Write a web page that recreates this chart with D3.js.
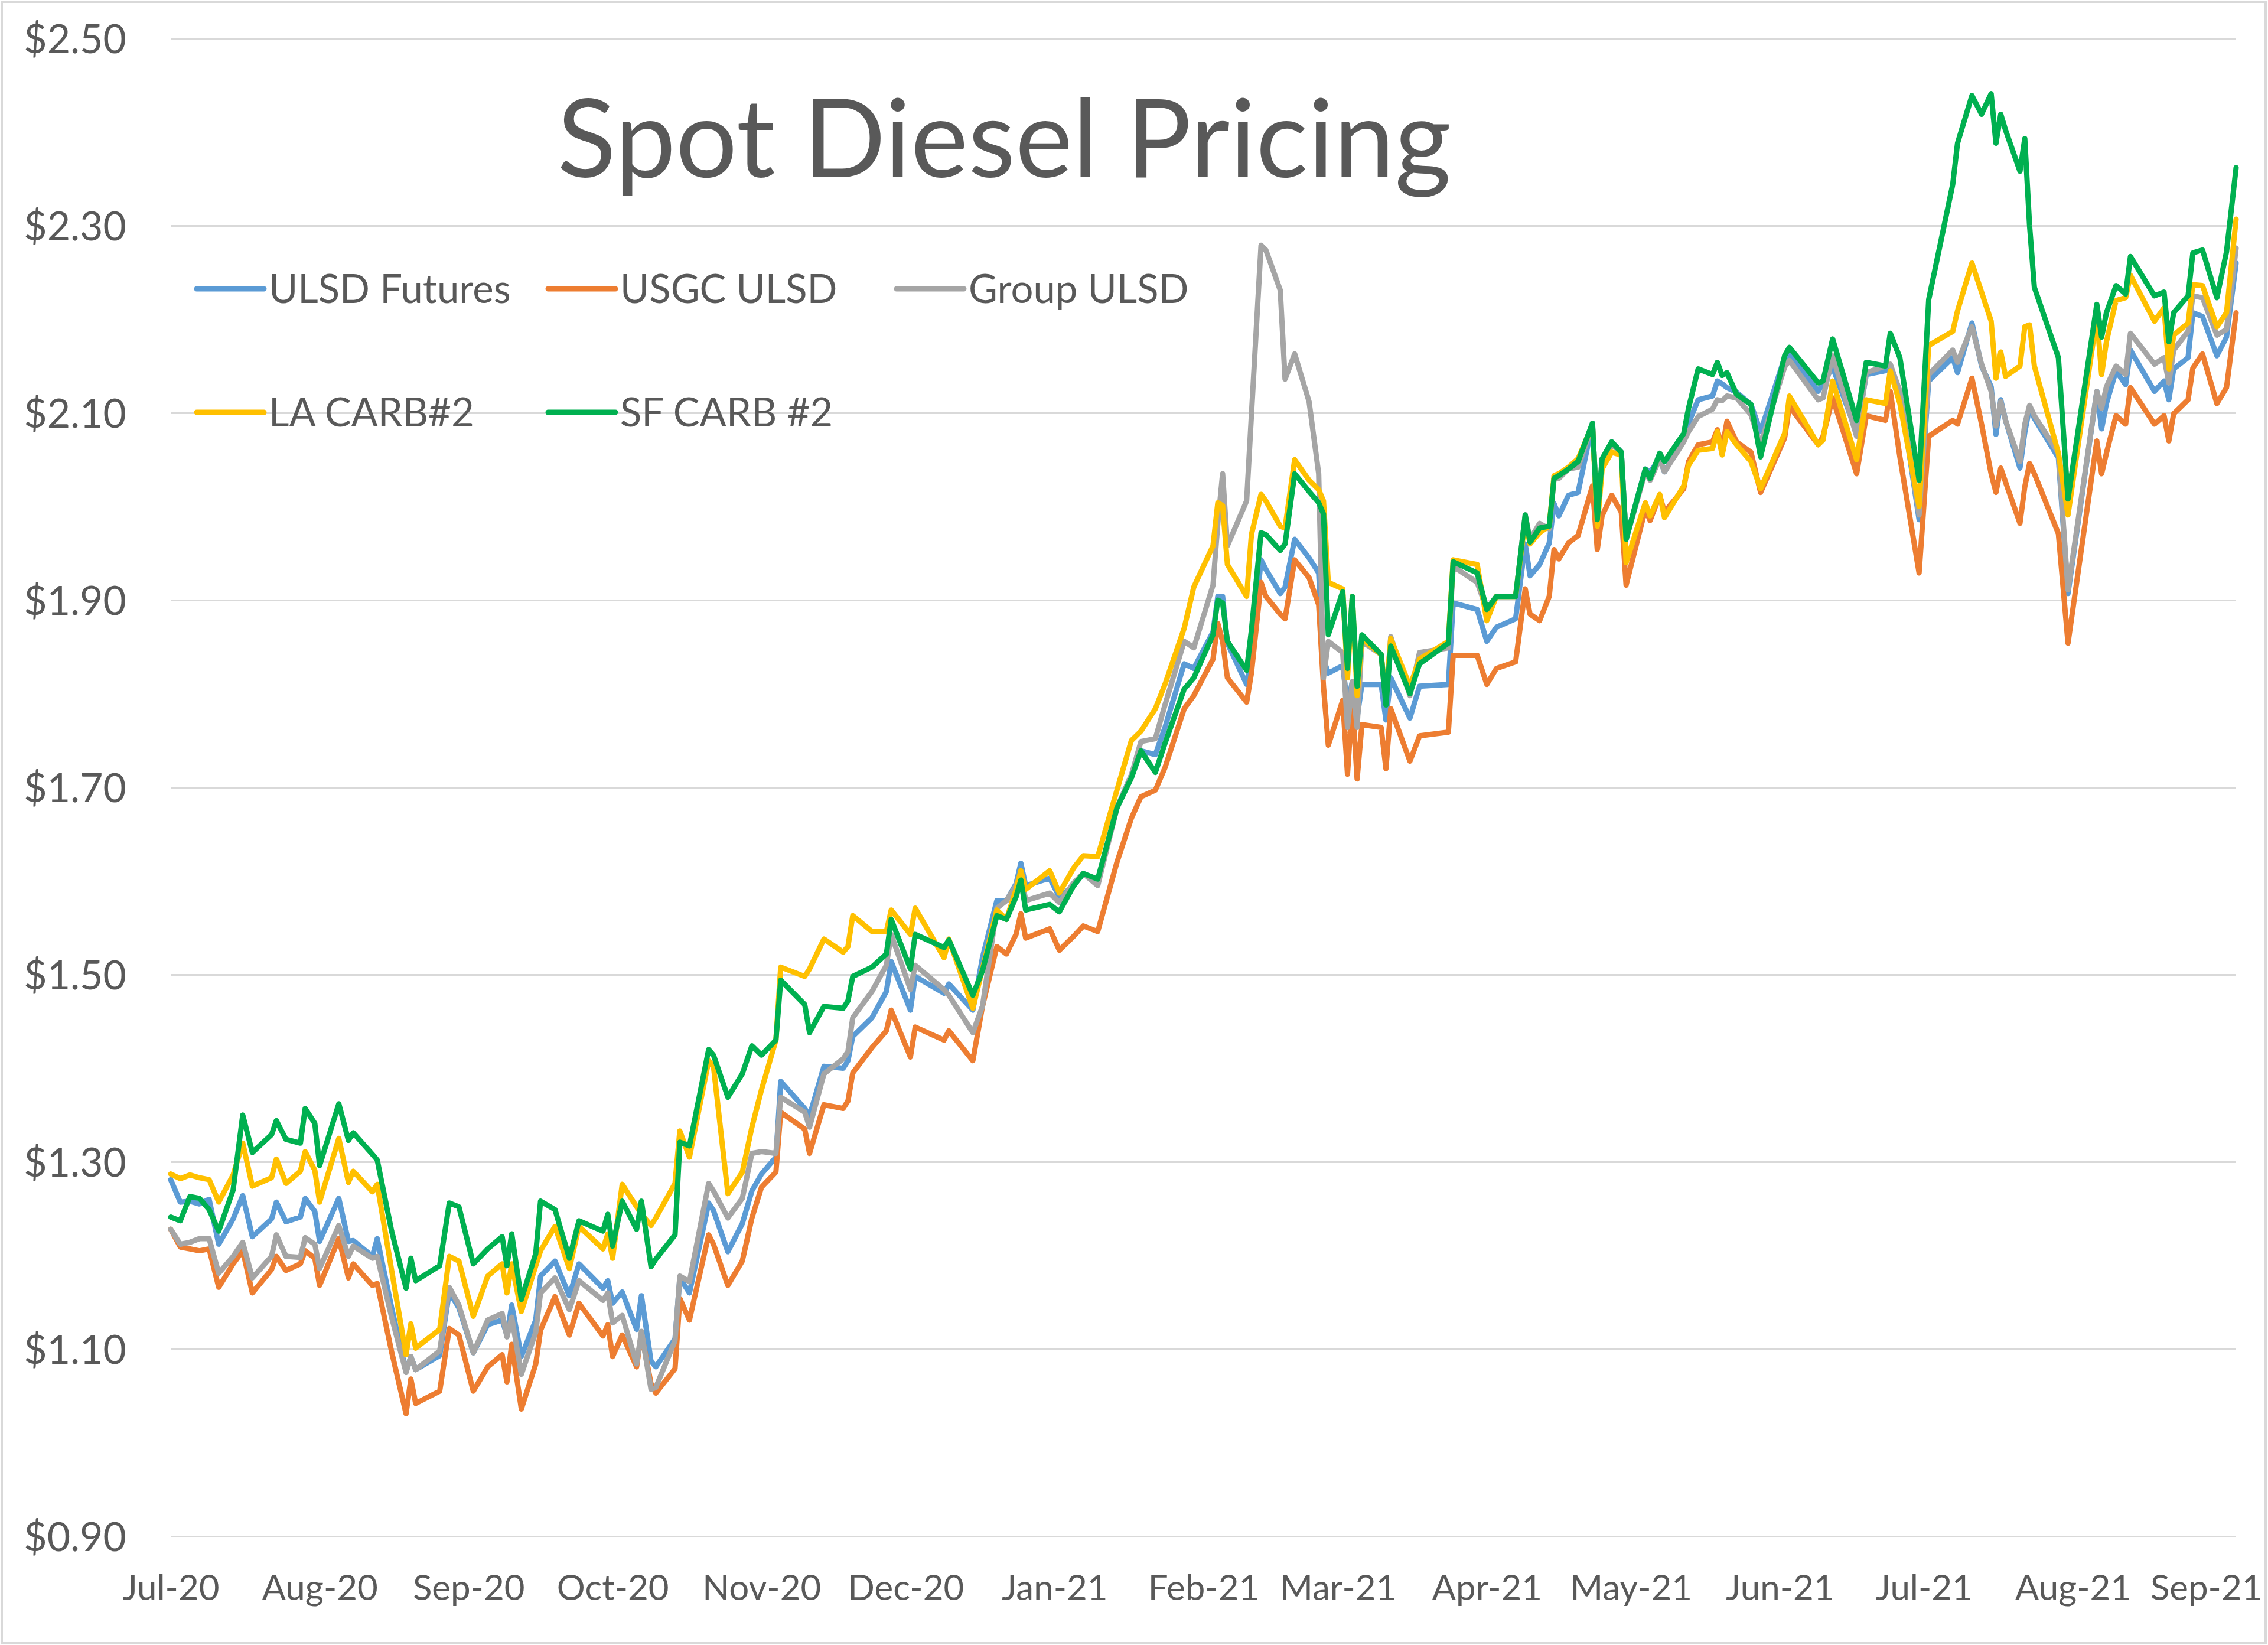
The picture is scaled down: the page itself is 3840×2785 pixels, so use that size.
<!DOCTYPE html>
<html><head><meta charset="utf-8">
<script src="https://cdn.jsdelivr.net/npm/d3@7"></script>
<style>
html,body{margin:0;padding:0;background:#fff;}
svg{display:block;}
text{font-family:Lato,"Open Sans",sans-serif;}
</style>
</head><body>
<svg id="chart" width="3840" height="2785"></svg>
<script>
// ---------------- DATA ----------------
const title = "Spot Diesel Pricing";
const seriesNames = ["ULSD Futures", "USGC ULSD", "Group ULSD", "LA CARB#2", "SF CARB #2"];
const seriesColors = ["#5B9BD5", "#ED7D31", "#A5A5A5", "#FFC000", "#00B050"];
const yTickValues = [0.90, 1.10, 1.30, 1.50, 1.70, 1.90, 2.10, 2.30, 2.50];
const xTickMonths = ["2020-07-01","2020-08-01","2020-09-01","2020-10-01","2020-11-01","2020-12-01",
  "2021-01-01","2021-02-01","2021-03-01","2021-04-01","2021-05-01","2021-06-01","2021-07-01","2021-08-01","2021-09-01"];

const dates = [
  "2020-07-01","2020-07-03","2020-07-05","2020-07-07","2020-07-09","2020-07-11","2020-07-14","2020-07-16","2020-07-18","2020-07-22","2020-07-23","2020-07-25","2020-07-28","2020-07-29","2020-07-31","2020-08-01","2020-08-05","2020-08-07","2020-08-08","2020-08-12","2020-08-13","2020-08-16","2020-08-19","2020-08-20","2020-08-21","2020-08-26","2020-08-28","2020-08-30","2020-09-02","2020-09-05","2020-09-08","2020-09-09","2020-09-10","2020-09-12","2020-09-15","2020-09-16","2020-09-19","2020-09-22","2020-09-24","2020-09-29","2020-09-30","2020-10-01","2020-10-03","2020-10-06",
  "2020-10-07","2020-10-09","2020-10-10","2020-10-14","2020-10-15","2020-10-17","2020-10-21","2020-10-22","2020-10-25","2020-10-28","2020-10-30","2020-11-01","2020-11-04","2020-11-05","2020-11-10","2020-11-11","2020-11-14","2020-11-18","2020-11-19","2020-11-20","2020-11-24","2020-11-27","2020-11-28","2020-12-02","2020-12-03","2020-12-09","2020-12-10","2020-12-15","2020-12-17","2020-12-20","2020-12-22","2020-12-24","2020-12-25","2020-12-26","2020-12-31","2021-01-02",
  "2021-01-05","2021-01-07","2021-01-10","2021-01-14","2021-01-17","2021-01-19",
  "2021-01-22","2021-01-24","2021-01-28","2021-01-30","2021-02-03","2021-02-04","2021-02-05","2021-02-06","2021-02-10","2021-02-11","2021-02-13","2021-02-14","2021-02-17","2021-02-18","2021-02-20","2021-02-23","2021-02-25","2021-02-26","2021-02-27","2021-03-02","2021-03-03","2021-03-04","2021-03-05","2021-03-06","2021-03-10","2021-03-11","2021-03-12","2021-03-16","2021-03-18","2021-03-24","2021-03-25","2021-03-30","2021-04-01","2021-04-03","2021-04-07","2021-04-09","2021-04-10","2021-04-12",
  "2021-04-14","2021-04-15","2021-04-16","2021-04-18","2021-04-20","2021-04-23","2021-04-24","2021-04-25","2021-04-27","2021-04-29","2021-04-30","2021-05-04","2021-05-05","2021-05-07","2021-05-08","2021-05-12","2021-05-13","2021-05-15","2021-05-18","2021-05-19","2021-05-20","2021-05-21","2021-05-23","2021-05-26","2021-05-28","2021-06-02","2021-06-03","2021-06-09","2021-06-10","2021-06-12",
  "2021-06-17","2021-06-19","2021-06-23","2021-06-24","2021-06-26","2021-06-30","2021-07-02","2021-07-07","2021-07-08","2021-07-11","2021-07-13","2021-07-15","2021-07-16","2021-07-17","2021-07-18","2021-07-21","2021-07-22","2021-07-23","2021-07-24","2021-07-29","2021-07-31","2021-08-06","2021-08-07","2021-08-08","2021-08-10","2021-08-12","2021-08-13","2021-08-18","2021-08-20","2021-08-21","2021-08-22","2021-08-25","2021-08-26","2021-08-28","2021-08-31","2021-09-02","2021-09-04"
];

const ulsdFutures = [
  1.281,1.257,1.258,1.255,1.260,1.212,1.239,1.264,1.220,1.239,1.257,1.236,1.241,1.261,1.247,1.215,1.261,1.215,1.216,1.199,1.218,1.144,1.076,1.092,1.078,1.093,1.161,1.144,1.096,1.126,1.131,1.115,1.147,1.092,1.131,1.178,1.194,1.157,1.191,1.165,1.173,1.149,1.161,1.121,
  1.157,1.087,1.081,1.111,1.176,1.160,1.256,1.248,1.204,1.234,1.269,1.287,1.305,1.386,1.357,1.349,1.402,1.400,1.408,1.434,1.454,1.482,1.514,1.462,1.498,1.480,1.490,1.462,1.518,1.579,1.579,1.597,1.619,1.595,1.603,1.583,
  1.595,1.608,1.600,1.678,1.713,1.739,
  1.735,1.764,1.832,1.827,1.866,1.904,1.904,1.854,1.810,1.837,1.943,1.933,1.907,1.914,1.965,1.945,1.929,1.837,1.822,1.830,1.788,1.813,1.774,1.810,1.810,1.772,1.817,1.774,1.808,1.810,1.897,1.890,1.856,1.871,1.880,1.960,1.926,1.938,
  1.961,2.003,1.990,2.012,2.015,2.089,1.986,2.044,2.069,2.058,1.965,2.040,2.037,2.051,2.037,2.073,2.089,2.114,2.118,2.134,2.131,2.127,2.122,2.109,2.080,2.159,2.163,2.123,2.131,2.149,
  2.079,2.141,2.145,2.150,2.123,1.986,2.134,2.159,2.143,2.196,2.150,2.128,2.077,2.114,2.092,2.041,2.079,2.106,2.094,2.052,1.907,2.123,2.083,2.110,2.145,2.130,2.167,2.123,2.134,2.114,2.147,2.159,2.207,2.203,2.161,2.181,2.260
];

const usgcUlsd = [
  1.228,1.209,1.207,1.205,1.207,1.166,1.191,1.205,1.160,1.185,1.199,1.184,1.191,1.205,1.197,1.168,1.218,1.176,1.191,1.168,1.170,1.097,1.031,1.068,1.042,1.055,1.122,1.115,1.055,1.081,1.094,1.065,1.105,1.036,1.084,1.120,1.156,1.115,1.149,1.114,1.126,1.092,1.115,1.081,
  1.117,1.063,1.053,1.079,1.154,1.131,1.222,1.212,1.168,1.194,1.240,1.273,1.289,1.353,1.335,1.309,1.361,1.357,1.365,1.395,1.422,1.440,1.462,1.412,1.444,1.430,1.440,1.408,1.466,1.530,1.522,1.543,1.565,1.539,1.549,1.526,
  1.541,1.552,1.546,1.620,1.667,1.690,
  1.697,1.721,1.784,1.798,1.837,1.875,1.856,1.817,1.791,1.822,1.919,1.904,1.885,1.880,1.943,1.924,1.895,1.808,1.745,1.793,1.714,1.793,1.709,1.767,1.764,1.720,1.784,1.728,1.755,1.759,1.841,1.841,1.810,1.827,1.834,1.912,1.885,1.878,
  1.904,1.954,1.944,1.961,1.969,2.022,1.954,1.990,2.012,1.994,1.916,1.997,1.985,2.012,1.994,2.019,2.048,2.066,2.069,2.082,2.062,2.091,2.069,2.058,2.015,2.073,2.107,2.066,2.075,2.116,
  2.035,2.097,2.092,2.123,2.053,1.929,2.075,2.092,2.088,2.137,2.088,2.035,2.015,2.041,2.026,1.982,2.021,2.046,2.035,1.971,1.854,2.070,2.035,2.057,2.097,2.088,2.127,2.088,2.097,2.070,2.099,2.114,2.148,2.163,2.110,2.127,2.207
];

const groupUlsd = [
  1.228,1.212,1.214,1.218,1.218,1.181,1.199,1.214,1.176,1.199,1.222,1.199,1.198,1.219,1.212,1.186,1.232,1.199,1.210,1.197,1.199,1.134,1.075,1.092,1.078,1.098,1.166,1.147,1.096,1.131,1.138,1.113,1.134,1.073,1.118,1.160,1.176,1.142,1.173,1.152,1.160,1.128,1.136,1.084,
  1.119,1.057,1.059,1.109,1.178,1.172,1.277,1.269,1.240,1.261,1.309,1.311,1.309,1.369,1.353,1.337,1.394,1.410,1.418,1.454,1.482,1.510,1.543,1.484,1.510,1.484,1.478,1.438,1.466,1.571,1.579,1.595,1.609,1.579,1.587,1.577,
  1.598,1.608,1.595,1.678,1.713,1.749,
  1.752,1.788,1.856,1.849,1.916,1.982,2.035,1.958,2.006,2.098,2.279,2.274,2.231,2.136,2.163,2.112,2.035,1.817,1.856,1.844,1.764,1.813,1.764,1.856,1.842,1.788,1.861,1.798,1.844,1.849,1.936,1.919,1.890,1.904,1.904,1.991,1.965,1.982,
  1.976,2.030,2.030,2.040,2.042,2.087,1.986,2.048,2.066,2.058,1.965,2.037,2.028,2.051,2.037,2.069,2.080,2.096,2.104,2.114,2.113,2.118,2.116,2.098,2.066,2.149,2.156,2.114,2.116,2.161,
  2.075,2.143,2.150,2.152,2.123,1.991,2.141,2.167,2.154,2.192,2.152,2.123,2.086,2.112,2.092,2.048,2.088,2.108,2.097,2.057,1.911,2.123,2.105,2.128,2.150,2.141,2.185,2.152,2.159,2.132,2.167,2.187,2.225,2.223,2.183,2.189,2.276
];

const laCarb2 = [
  1.287,1.282,1.286,1.283,1.281,1.257,1.286,1.320,1.274,1.283,1.303,1.277,1.290,1.311,1.291,1.257,1.325,1.278,1.290,1.268,1.276,1.184,1.094,1.127,1.101,1.121,1.199,1.194,1.135,1.178,1.191,1.160,1.191,1.140,1.189,1.205,1.231,1.186,1.231,1.207,1.223,1.197,1.276,1.252,
  1.244,1.232,1.240,1.277,1.333,1.305,1.408,1.402,1.266,1.289,1.337,1.377,1.430,1.508,1.498,1.506,1.538,1.524,1.530,1.563,1.546,1.546,1.569,1.543,1.571,1.518,1.538,1.464,1.506,1.569,1.559,1.591,1.611,1.591,1.611,1.587,
  1.614,1.627,1.626,1.697,1.750,1.760,
  1.784,1.810,1.870,1.914,1.958,2.004,2.001,1.938,1.904,1.970,2.013,2.006,1.979,1.977,2.050,2.028,2.018,2.006,1.919,1.912,1.817,1.904,1.798,1.859,1.842,1.796,1.859,1.808,1.837,1.856,1.943,1.938,1.878,1.904,1.904,1.986,1.960,1.972,
  1.979,2.033,2.035,2.042,2.051,2.087,1.979,2.040,2.058,2.055,1.940,2.004,1.990,2.013,1.988,2.022,2.044,2.060,2.062,2.080,2.055,2.080,2.066,2.048,2.019,2.078,2.118,2.066,2.071,2.134,
  2.050,2.114,2.110,2.145,2.110,2.000,2.172,2.187,2.209,2.260,2.229,2.198,2.137,2.165,2.139,2.150,2.192,2.194,2.150,2.057,1.991,2.203,2.141,2.176,2.220,2.223,2.247,2.198,2.212,2.147,2.183,2.196,2.237,2.236,2.192,2.207,2.307
];

const sfCarb2 = [
  1.241,1.237,1.263,1.261,1.249,1.226,1.270,1.350,1.310,1.329,1.344,1.324,1.320,1.357,1.341,1.296,1.362,1.323,1.331,1.308,1.302,1.226,1.165,1.197,1.173,1.189,1.256,1.252,1.191,1.207,1.220,1.189,1.223,1.153,1.202,1.258,1.249,1.197,1.237,1.226,1.244,1.210,1.258,1.228,
  1.258,1.188,1.196,1.222,1.321,1.317,1.420,1.414,1.369,1.394,1.424,1.414,1.430,1.494,1.468,1.438,1.466,1.464,1.472,1.498,1.508,1.522,1.559,1.506,1.543,1.529,1.537,1.478,1.504,1.563,1.559,1.583,1.601,1.569,1.575,1.567,
  1.595,1.608,1.602,1.678,1.710,1.739,
  1.716,1.747,1.805,1.817,1.863,1.900,1.897,1.856,1.825,1.868,1.972,1.970,1.953,1.960,2.035,2.016,2.004,1.992,1.863,1.909,1.827,1.904,1.808,1.863,1.842,1.788,1.851,1.800,1.832,1.854,1.941,1.929,1.890,1.904,1.904,1.991,1.962,1.977,
  1.979,2.030,2.033,2.040,2.048,2.089,1.986,2.051,2.069,2.058,1.965,2.040,2.030,2.057,2.048,2.078,2.105,2.147,2.141,2.154,2.140,2.143,2.120,2.109,2.053,2.161,2.170,2.132,2.134,2.179,
  2.092,2.154,2.150,2.185,2.159,2.028,2.221,2.344,2.388,2.439,2.419,2.441,2.388,2.419,2.402,2.358,2.393,2.300,2.234,2.159,2.008,2.216,2.181,2.207,2.236,2.227,2.267,2.225,2.229,2.176,2.207,2.225,2.271,2.274,2.223,2.272,2.362
];

const seriesValues = [ulsdFutures, usgcUlsd, groupUlsd, laCarb2, sfCarb2];

// ---------------- CHART ----------------
const W = 3840, H = 2785;
const parse = d3.timeParse("%Y-%m-%d");
const plot = {left: 289, right: 3786, top: 65, bottom: 2601};
const textColor = "#595959";
const gridColor = "#D9D9D9";
const fontStack = "Lato, 'Open Sans', sans-serif";
const chartRightEdge = 3830;

const svg = d3.select("#chart").attr("viewBox", `0 0 ${W} ${H}`);

svg.append("rect").attr("x", 3).attr("y", 3).attr("width", W - 7).attr("height", H - 6)
  .attr("fill", "#fff").attr("stroke", gridColor).attr("stroke-width", 4);

const x = d3.scaleTime()
  .domain([parse(dates[0]), parse(dates[dates.length - 1])])
  .range([plot.left, plot.right]);
const y = d3.scaleLinear().domain([0.9, 2.5]).range([plot.bottom, plot.top]);

// Y axis with gridlines
const yAxis = d3.axisLeft(y)
  .tickValues(yTickValues)
  .tickFormat(d3.format("$.2f"))
  .tickSize(-(plot.right - plot.left))
  .tickPadding(75);
const yg = svg.append("g").attr("transform", `translate(${plot.left},0)`).call(yAxis);
yg.select(".domain").remove();
yg.selectAll(".tick line").attr("stroke", gridColor).attr("stroke-width", 3);
yg.selectAll(".tick text").attr("fill", textColor).attr("font-size", 68)
  .attr("font-family", fontStack).attr("dy", "0.36em");

// X axis
const xAxis = d3.axisBottom(x)
  .tickValues(xTickMonths.map(parse))
  .tickFormat(d3.timeFormat("%b-%y"))
  .tickSize(0)
  .tickPadding(65);
const xg = svg.append("g").attr("transform", `translate(0,${plot.bottom})`).call(xAxis);
xg.select(".domain").remove();
xg.selectAll(".tick text").attr("fill", textColor).attr("font-size", 60)
  .attr("font-family", fontStack);
// keep the last month label inside the chart frame
xg.selectAll(".tick").each(function(d) {
  const t = d3.select(this).select("text");
  const w = t.node().getComputedTextLength();
  const cx = x(d);
  if (cx + w / 2 > chartRightEdge) t.attr("dx", chartRightEdge - (cx + w / 2));
});

// Lines
const line = d3.line().x(d => x(d.date)).y(d => y(d.value));
const seriesData = seriesNames.map((name, i) => ({
  name, color: seriesColors[i],
  points: dates.map((ds, j) => ({date: parse(ds), value: seriesValues[i][j]}))
    .filter(p => p.value != null && !isNaN(p.value))
}));
svg.append("g").selectAll("path").data(seriesData).join("path")
  .attr("d", d => line(d.points))
  .attr("fill", "none")
  .attr("stroke", d => d.color)
  .attr("stroke-width", 9)
  .attr("stroke-linejoin", "round")
  .attr("stroke-linecap", "round");

// Title
svg.append("text").attr("x", 1700).attr("y", 300).attr("text-anchor", "middle")
  .attr("font-size", 184).attr("fill", textColor).text(title);

// Legend (two rows)
const legendRows = [489, 698];
const legendCols = [333, 928, 1518];
const legendPos = [[0, 0], [0, 1], [0, 2], [1, 0], [1, 1]];
const lg = svg.append("g");
seriesData.forEach((s, i) => {
  const [r, c] = legendPos[i];
  const ly = legendRows[r], lx = legendCols[c];
  lg.append("line").attr("x1", lx).attr("x2", lx + 114).attr("y1", ly).attr("y2", ly)
    .attr("stroke", s.color).attr("stroke-width", 9).attr("stroke-linecap", "round");
  lg.append("text").attr("x", lx + 122).attr("y", ly + 24)
    .attr("font-size", 67).attr("fill", textColor).text(s.name);
});
</script>
</body></html>
